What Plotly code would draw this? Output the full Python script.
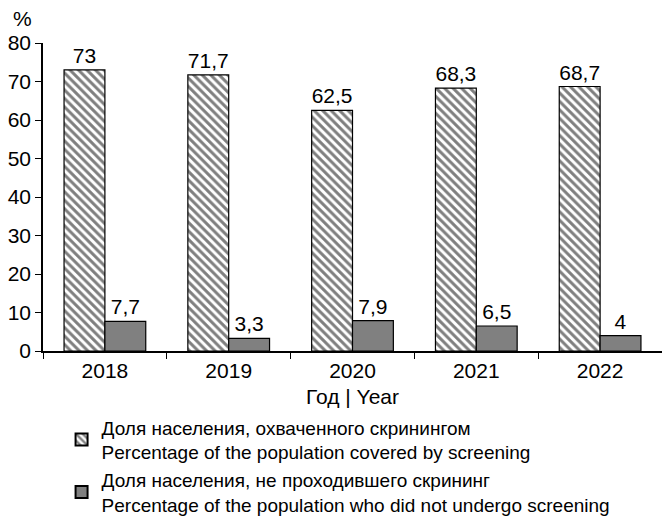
import plotly.graph_objects as go

years = ["2018", "2019", "2020", "2021", "2022"]
covered = [73, 71.7, 62.5, 68.3, 68.7]
not_screened = [7.7, 3.3, 7.9, 6.5, 4]

name_covered = "Доля населения, охваченного скринингом<br>Percentage of the population covered by screening"
name_not = "Доля населения, не проходившего скрининг<br>Percentage of the population who did not undergo screening"


def fmt(v):
    return f"{v:g}".replace(".", ",")


FONT = "Liberation Sans, Arial, sans-serif"

fig = go.Figure()
fig.add_trace(go.Bar(
    x=years, y=covered, name=name_covered,
    text=[fmt(v) for v in covered], textposition="outside",
    textfont=dict(size=21, color="black", family=FONT),
    marker=dict(color="white", line=dict(color="black", width=1.2),
                pattern=dict(shape="\\", fgcolor="black", bgcolor="white",
                             size=6, solidity=0.5)),
    cliponaxis=False,
))
fig.add_trace(go.Bar(
    x=years, y=not_screened, name=name_not,
    text=[fmt(v) for v in not_screened], textposition="outside",
    textfont=dict(size=21, color="black", family=FONT),
    marker=dict(color="#808080", line=dict(color="black", width=1.2)),
    cliponaxis=False,
))

fig.update_layout(
    width=662, height=516,
    margin=dict(l=43, r=0, t=43, b=165, autoexpand=False),
    paper_bgcolor="white", plot_bgcolor="white",
    barmode="group", bargap=0.34, bargroupgap=0,
    font=dict(family=FONT, size=21, color="black"),
    showlegend=True,
    legend=dict(x=0.03, y=-0.186, xanchor="left", yanchor="top",
                font=dict(size=19, color="black", family=FONT),
                tracegroupgap=0, itemsizing="constant"),
    xaxis=dict(
        showline=True, linecolor="black", linewidth=1.5,
        ticks="outside", tickson="boundaries", ticklen=6, tickcolor="black",
        tickfont=dict(size=21),
        title=dict(text="Год | Year", font=dict(size=21), standoff=8),
        showgrid=False, zeroline=False,
    ),
    yaxis=dict(
        range=[0, 80], dtick=10,
        showline=True, linecolor="black", linewidth=1.5,
        ticks="outside", ticklen=6, tickcolor="black",
        tickfont=dict(size=21),
        showgrid=False, zeroline=False,
    ),
    annotations=[dict(text="%", x=-0.033, y=1.035, xref="paper", yref="paper",
                      xanchor="center", yanchor="bottom", showarrow=False,
                      font=dict(size=21, color="black"))],
)

fig.write_html("out.html")
